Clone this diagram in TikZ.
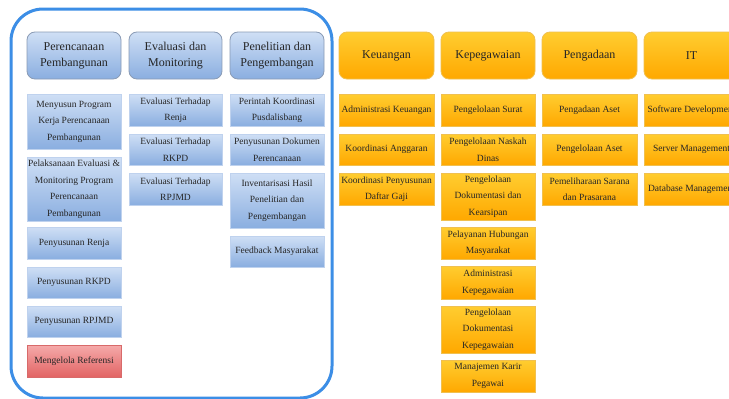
\documentclass[tikz,border=0pt]{standalone}
\usepackage{fontspec}
\setmainfont{Liberation Serif}
\definecolor{blueT}{HTML}{CFDFF5}
\definecolor{blueB}{HTML}{8AAEE0}
\definecolor{blueLine}{HTML}{8A9BB5}
\definecolor{blueSubLine}{HTML}{BFD2EE}
\definecolor{orgT}{HTML}{FFCD30}
\definecolor{orgB}{HTML}{FFA800}
\definecolor{orgLine}{HTML}{F0C050}
\definecolor{redT}{HTML}{F5AAAA}
\definecolor{redB}{HTML}{E26464}
\definecolor{redLine}{HTML}{D86A6A}
\definecolor{frame}{HTML}{3C8EE6}
\definecolor{txt}{HTML}{262626}
\tikzset{
  base/.style={align=center, inner sep=1pt, text=txt},
  hdrblue/.style={base, draw=blueLine, line width=0.8pt, rounded corners=8pt, top color=blueT, bottom color=blueB,
     font=\fontsize{12}{16}\selectfont},
  hdrorg/.style={base, draw=orgLine, line width=0.8pt, rounded corners=8pt, top color=orgT, bottom color=orgB,
     font=\fontsize{12}{16}\selectfont},
  subblue/.style={base, draw=blueSubLine, line width=1pt, top color=blueT, bottom color=blueB,
     font=\fontsize{9.5}{16.5}\selectfont},
  suborg/.style={base, draw=orgLine, line width=1pt, top color=orgT, bottom color=orgB,
     font=\fontsize{9.5}{16.5}\selectfont},
  subred/.style={base, draw=redLine, line width=1pt, top color=redT, bottom color=redB,
     font=\fontsize{9.5}{16.5}\selectfont},
}
% \bx{name}{style}{x1}{y1}{x2}{y2}{text}
\newcommand{\bx}[7]{%
  \node[#2, minimum width={(#5-#3)*1pt}, minimum height={(#6-#4)*1pt}] (#1) at ({(#3+#5)/2},{(#4+#6)/2}) {#7};}
\begin{document}
\begin{tikzpicture}[x=1pt,y=-1pt]
\useasboundingbox (0,0) rectangle (729,399);
\clip (0,0) rectangle (729,399);
\fill[white] (0,0) rectangle (729,399);
% frame
\draw[frame, line width=3pt, rounded corners=32pt] (11,9) rectangle (332,398);
% blue headers
\bx{h1}{hdrblue}{27}{32}{121}{79}{Perencanaan\\Pembangunan}
\bx{h2}{hdrblue}{129}{32}{222}{79}{Evaluasi dan\\Monitoring}
\bx{h3}{hdrblue}{230}{32}{324}{79}{Penelitian dan\\Pengembangan}
% column 1
\bx{a1}{subblue}{27}{94}{121}{149}{Menyusun Program\\Kerja Perencanaan\\Pembangunan}
\bx{a2}{subblue}{27}{157}{121}{221}{Pelaksanaan Evaluasi \&\\Monitoring Program\\Perencanaan\\Pembangunan}
\bx{a3}{subblue}{27}{227}{121}{259}{Penyusunan Renja}
\bx{a4}{subblue}{27}{267}{121}{298}{Penyusunan RKPD}
\bx{a5}{subblue}{27}{306}{121}{337}{Penyusunan RPJMD}
\bx{a6}{subred}{27}{345}{121}{377}{Mengelola Referensi}
% column 2
\bx{b1}{subblue}{129}{94}{222}{126}{Evaluasi Terhadap\\Renja}
\bx{b2}{subblue}{129}{134}{222}{165}{Evaluasi Terhadap\\RKPD}
\bx{b3}{subblue}{129}{173}{222}{205}{Evaluasi Terhadap\\RPJMD}
% column 3
\bx{c1}{subblue}{230}{94}{324}{126}{Perintah Koordinasi\\Pusdalisbang}
\bx{c2}{subblue}{230}{134}{324}{165}{Penyusunan Dokumen\\Perencanaan}
\bx{c3}{subblue}{230}{173}{324}{228}{Inventarisasi Hasil\\Penelitian dan\\Pengembangan}
\bx{c4}{subblue}{230}{236}{324}{267}{Feedback Masyarakat}
% orange headers
\bx{h4}{hdrorg}{339}{32}{434}{79}{Keuangan}
\bx{h5}{hdrorg}{441}{32}{535}{79}{Kepegawaian}
\bx{h6}{hdrorg}{542}{32}{637}{79}{Pengadaan}
\bx{h7}{hdrorg}{644}{32}{739}{79}{IT}
% Keuangan
\bx{d1}{suborg}{339}{94}{434}{126}{Administrasi Keuangan}
\bx{d2}{suborg}{339}{134}{434}{165}{Koordinasi Anggaran}
\bx{d3}{suborg}{339}{173}{434}{205}{Koordinasi Penyusunan\\Daftar Gaji}
% Kepegawaian
\bx{e1}{suborg}{441}{94}{535}{126}{Pengelolaan Surat}
\bx{e2}{suborg}{441}{134}{535}{165}{Pengelolaan Naskah\\Dinas}
\bx{e3}{suborg}{441}{173}{535}{220}{Pengelolaan\\Dokumentasi dan\\Kearsipan}
\bx{e4}{suborg}{441}{227}{535}{259}{Pelayanan Hubungan\\Masyarakat}
\bx{e5}{suborg}{441}{266}{535}{299}{Administrasi\\Kepegawaian}
\bx{e6}{suborg}{441}{306}{535}{353}{Pengelolaan\\Dokumentasi\\Kepegawaian}
\bx{e7}{suborg}{441}{360}{535}{392}{Manajemen Karir\\Pegawai}
% Pengadaan
\bx{f1}{suborg}{542}{94}{637}{126}{Pengadaan Aset}
\bx{f2}{suborg}{542}{134}{637}{165}{Pengelolaan Aset}
\bx{f3}{suborg}{542}{173}{637}{205}{Pemeliharaan Sarana\\dan Prasarana}
% IT
\bx{g1}{suborg}{644}{94}{739}{126}{Software Development}
\bx{g2}{suborg}{644}{134}{739}{165}{Server Management}
\bx{g3}{suborg}{644}{173}{739}{205}{Database Management}
\end{tikzpicture}
\end{document}
